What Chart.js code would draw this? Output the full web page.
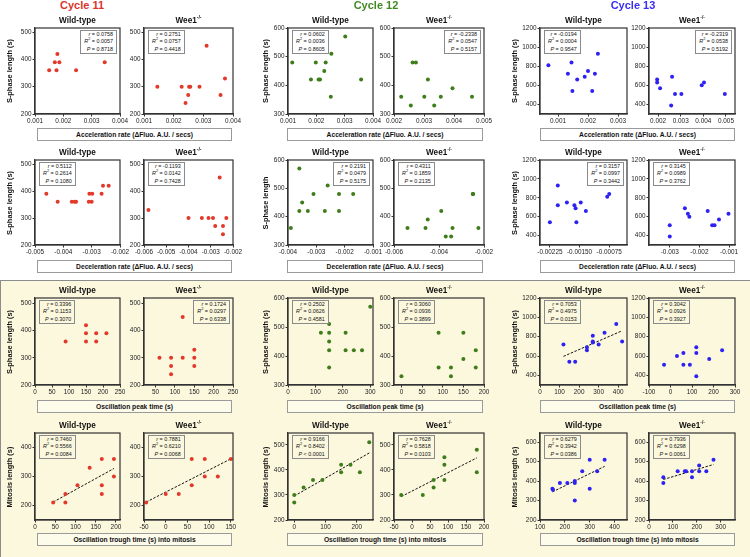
<!DOCTYPE html>
<html>
<head>
<meta charset="utf-8">
<script src="https://cdn.jsdelivr.net/npm/chart.js@4.4.1/dist/chart.umd.min.js"></script>
<style>
  body { margin: 0; background: #fff; font-family: "Liberation Sans", Arial, sans-serif; color: #111; }
  #fig { position: relative; width: 750px; height: 557px; overflow: hidden; }
  .abs { position: absolute; white-space: nowrap; }
  .cyc { font-weight: bold; font-size: 11px; transform: translateX(-50%); }
  .sub { font-weight: bold; font-size: 8.2px; transform: translate(-50%, -50%); }
  .sub sup { font-size: 5px; line-height: 0; }
  .ytl { font-weight: bold; font-size: 7.4px; transform: translate(-50%, -50%) rotate(-90deg); }
  .xbox { border: 1px solid #9a9a9a; font-weight: bold; font-size: 6.7px; text-align: center; box-sizing: border-box; }
  .stat { border: 1px solid #8a8a8a; font-size: 5.4px; line-height: 7.3px; padding: 0 3px; text-align: right; }
  .stat sup { font-size: 3.9px; line-height: 0; }
  #yellow { left: 0; top: 280px; width: 749px; height: 276px; background: #fcf8de; border: 1px solid #8c8c8c; }
  canvas { position: absolute; }
</style>
</head>
<body>
<div id="fig">
  <div id="yellow" class="abs"></div>
</div>
<script>
// ---- data: [x, y] points ----
// Cycle 11
const c11AccWt = [[0.0015,360],[0.0017,390],[0.00176,360],[0.00179,420],[0.00186,390],[0.00245,360],[0.00346,390]];
const c11AccWee = [[0.00145,300],[0.00227,300],[0.0024,240],[0.00249,270],[0.00252,300],[0.00256,300],[0.00287,300],[0.00311,450],[0.00358,270],[0.00373,330]];
const c11DecWt = [[-0.0046,390],[-0.0042,360],[-0.0037,360],[-0.0036,360],[-0.00355,360],[-0.00308,390],[-0.0031,360],[-0.00298,390],[-0.003,360],[-0.00265,390],[-0.0026,420],[-0.0024,420]];
const c11DecWee = [[-0.0058,330],[-0.004,300],[-0.0034,300],[-0.0031,300],[-0.0029,300],[-0.0028,270],[-0.0026,450],[-0.00245,270],[-0.00245,240],[-0.0023,300]];
const c11PeakWt = [[90,360],[150,420],[150,390],[150,360],[180,390],[180,360],[210,390]];
const c11PeakWee = [[60,300],[90,300],[90,270],[90,240],[120,450],[120,300],[150,330],[150,300],[150,270]];
const c11TroughWt = [[45,210],[75,240],[75,210],[105,270],[135,330],[165,360],[165,270],[165,240],[195,360],[195,300]];
const c11TroughWee = [[-45,210],[0,240],[30,240],[60,360],[60,270],[90,360],[90,300],[120,300],[150,360]];
// Cycle 12
const c12AccWt = [[0.00115,480],[0.00181,420],[0.00198,480],[0.00208,420],[0.00213,420],[0.00228,450],[0.00233,480],[0.00253,510],[0.00251,360],[0.00302,570],[0.00358,420]];
const c12AccWee = [[0.00224,360],[0.00256,330],[0.00262,480],[0.00273,480],[0.00301,360],[0.00313,420],[0.00334,330],[0.00356,360],[0.00395,390],[0.0046,360]];
const c12DecWt = [[-0.0039,360],[-0.0036,570],[-0.0036,420],[-0.0035,450],[-0.0033,420],[-0.0031,480],[-0.0027,420],[-0.0026,510],[-0.0022,480],[-0.0022,420],[-0.0017,480]];
const c12DecWee = [[-0.0054,360],[-0.0046,360],[-0.0045,390],[-0.0039,420],[-0.0037,330],[-0.00346,330],[-0.0034,360],[-0.0025,480],[-0.00248,480],[-0.00225,360]];
const c12PeakWt = [[120,480],[150,510],[150,480],[150,450],[150,420],[150,360],[210,480],[210,420],[240,420],[270,420],[300,570]];
const c12PeakWee = [[0,330],[90,480],[90,360],[120,360],[120,330],[150,480],[150,390],[180,420],[180,360]];
const c12TroughWt = [[0,300],[0,270],[30,330],[60,360],[90,360],[150,420],[150,390],[180,420],[210,390],[240,510]];
const c12TroughWee = [[-30,300],[30,300],[60,360],[60,330],[90,450],[90,420],[90,360],[180,480],[180,390]];
// Cycle 13
const c13AccWt = [[0.00068,810],[0.00133,720],[0.00145,840],[0.00148,540],[0.00164,660],[0.00189,690],[0.002,750],[0.00214,540],[0.00223,720],[0.00233,930]];
const c13AccWee = [[0.00196,660],[0.00196,630],[0.00209,570],[0.00262,690],[0.00258,390],[0.00275,510],[0.00303,510],[0.00393,600],[0.00403,630],[0.00495,510]];
const c13DecWt = [[-0.00225,540],[-0.00205,930],[-0.00205,720],[-0.00182,750],[-0.00163,720],[-0.0016,690],[-0.00158,540],[-0.00147,750],[-0.00134,660],[-0.0008,810],[-0.00075,840]];
const c13DecWee = [[-0.003,510],[-0.003,390],[-0.00249,690],[-0.00239,630],[-0.00234,600],[-0.00172,660],[-0.00157,510],[-0.00149,510],[-0.00134,570],[-0.00102,630]];
const c13PeakWt = [[120,720],[150,540],[180,540],[240,690],[240,660],[270,810],[270,750],[270,740],[300,720],[330,840],[390,930],[420,750]];
const c13PeakWee = [[-30,510],[30,600],[60,630],[60,510],[90,510],[120,690],[120,630],[120,390],[180,570],[240,660]];
const c13TroughWt = [[150,360],[152,355],[180,390],[210,390],[240,390],[240,400],[240,300],[270,450],[300,510],[300,360],[330,450],[360,510]];
const c13TroughWee = [[60,420],[60,390],[120,450],[150,450],[155,450],[180,450],[180,420],[210,480],[210,450],[240,450],[270,510]];

// ---- stats text: r, R squared, P ----
const stats = [
  ['0.0758','0.0057','= 0.8718'], ['0.2751','0.0757','= 0.4418'], ['0.0602','0.0036','= 0.8605'],
  ['-0.2338','0.0547','= 0.5157'], ['-0.0194','0.0004','= 0.9547'], ['-0.2319','0.0538','= 0.5192'],
  ['0.5112','0.2614','= 0.1080'], ['-0.1193','0.0142','= 0.7428'], ['0.2191','0.0479','= 0.5175'],
  ['0.4311','0.1859','= 0.2135'], ['0.3157','0.0997','= 0.3442'], ['0.3145','0.0989','= 0.3762'],
  ['0.3396','0.1153','= 0.3070'], ['0.1724','0.0297','= 0.6338'], ['0.2502','0.0626','= 0.4581'],
  ['0.3060','0.0936','= 0.3899'], ['0.7053','0.4975','= 0.0153'], ['0.3042','0.0926','= 0.3927'],
  ['0.7460','0.5566','= 0.0084'], ['0.7881','0.6210','= 0.0068'], ['0.9166','0.8402','< 0.0001'],
  ['0.7628','0.5818','= 0.0103'], ['0.6279','0.3942','= 0.0386'], ['0.7936','0.6298','= 0.0061']
];

// ---- tick values ----
const tkAcc = [0.001,0.002,0.003,0.004];
const tkAcc12Wee = [0.002,0.003,0.004,0.005];
const tkAcc13Wt = [0.001,0.002,0.003];
const tkDec11Wt = [-0.005,-0.004,-0.003,-0.002];
const tkDec11Wee = [-0.006,-0.005,-0.004,-0.003,-0.002];
const tkDec12Wt = [-0.004,-0.003,-0.002,-0.001];
const tkDec12Wee = [-0.006,-0.004,-0.002];
const tkDec13Wt = [-0.00225,-0.0015,-0.00075];
const tkDec13Wee = [-0.003,-0.002,-0.001];
const tkPeak11Wt = [0,50,100,150,200,250];
const tkPeak11Wee = [50,100,150,200,250];
const tkPeak12Wt = [0,100,200,300];
const tkPeak12Wee = [0,50,100,150,200];
const tkPeak13Wt = [0,100,200,300,400];
const tkPeak13Wee = [-100,0,100,200,300];
const tkTr11Wt = [0,50,100,150,200];
const tkTr11Wee = [-50,0,50,100,150];
const tkTr12Wt = [0,100,200];
const tkTr12Wee = [-50,0,50,100,150,200];
const tkTr13Wt = [100,200,300,400];
const tkTr13Wee = [0,100,200,300];
const tkS11 = [200,300,400,500];
const tkS12 = [300,400,500,600];
const tkS13 = [400,600,800,1000,1200];
const tkM11 = [200,300,400];
const tkM12 = [200,300,400,500];
const tkM13 = [200,300,400,500,600];

const cycles = ['Cycle 11', 'Cycle 12', 'Cycle 13'];
const cycleColors = ['#d9352b', '#3f8a22', '#3a2ef2'];
const dotColors = ['#e2392b', '#3f7d1b', '#2d22f2'];
const xTitles = ['Acceleration rate (\u0394Fluo. A.U. / secs)', 'Deceleration rate (\u0394Fluo. A.U. / secs)',
  'Oscillation peak time (s)', 'Oscillation trough time (s) into mitosis'];
const yTitles = [
  ['S-phase length (s)', 'S-phase length (s)', 'S-phase length (s)'],
  ['S-phase length (s)', 'S-phase length', 'S-phase length (s)'],
  ['S-phase length (s)', 'S-phase length (s)', 'S-phase length (s)'],
  ['Mitosis length (s)', 'Mitosis length (s)', 'Mitosis length (s)']
];

// ---- layout ----
const Y_W = 24, X_H = 11, PT = 5, PR = 12;
const colWt = [[35,120],[288,373],[540,627]];
const colWee = [[144,233],[394,484],[649,735]];
const rows = [[28,114],[160,245],[298,385],[433,520]];
const xBoxX = [[37,232],[287,483],[540,735]];
const xBoxY = [128,260,400,533];
const subY = [20,152,290,425];
const yTitleX = [9,265,514];
const cycleX = [82,376,633];

const panels = [
  {r:0,c:0,g:0,pts:c11AccWt,xr:[0.001,0.004],xt:tkAcc,yr:[200,515],yt:tkS11,d:3,side:'R'},
  {r:0,c:0,g:1,pts:c11AccWee,xr:[0.001,0.004],xt:tkAcc,yr:[200,515],yt:tkS11,d:3,side:'L'},
  {r:0,c:1,g:0,pts:c12AccWt,xr:[0.001,0.004],xt:tkAcc,yr:[300,600],yt:tkS12,d:3,side:'L'},
  {r:0,c:1,g:1,pts:c12AccWee,xr:[0.002,0.005],xt:tkAcc12Wee,yr:[300,600],yt:tkS12,d:3,side:'R'},
  {r:0,c:2,g:0,pts:c13AccWt,xr:[0.0004,0.0033],xt:tkAcc13Wt,yr:[300,1200],yt:tkS13,d:3,side:'L'},
  {r:0,c:2,g:1,pts:c13AccWee,xr:[0.0016,0.0054],xt:tkAcc12Wee,yr:[300,1200],yt:tkS13,d:3,side:'R'},
  {r:1,c:0,g:0,pts:c11DecWt,xr:[-0.005,-0.002],xt:tkDec11Wt,yr:[200,515],yt:tkS11,d:3,side:'L'},
  {r:1,c:0,g:1,pts:c11DecWee,xr:[-0.006,-0.002],xt:tkDec11Wee,yr:[200,515],yt:tkS11,d:3,side:'L'},
  {r:1,c:1,g:0,pts:c12DecWt,xr:[-0.004,-0.001],xt:tkDec12Wt,yr:[300,600],yt:tkS12,d:3,side:'R'},
  {r:1,c:1,g:1,pts:c12DecWee,xr:[-0.006,-0.002],xt:tkDec12Wee,yr:[300,600],yt:tkS12,d:3,side:'L'},
  {r:1,c:2,g:0,pts:c13DecWt,xr:[-0.0025,-0.0003],xt:tkDec13Wt,yr:[300,1200],yt:tkS13,d:5,side:'R'},
  {r:1,c:2,g:1,pts:c13DecWee,xr:[-0.0037,-0.0008],xt:tkDec13Wee,yr:[300,1200],yt:tkS13,d:3,side:'L'},
  {r:2,c:0,g:0,pts:c11PeakWt,xr:[0,250],xt:tkPeak11Wt,yr:[200,520],yt:tkS11,d:0,side:'L'},
  {r:2,c:0,g:1,pts:c11PeakWee,xr:[20,250],xt:tkPeak11Wee,yr:[200,520],yt:tkS11,d:0,side:'R'},
  {r:2,c:1,g:0,pts:c12PeakWt,xr:[0,310],xt:tkPeak12Wt,yr:[300,600],yt:tkS12,d:0,side:'L'},
  {r:2,c:1,g:1,pts:c12PeakWee,xr:[-18,200],xt:tkPeak12Wee,yr:[300,600],yt:tkS12,d:0,side:'L'},
  {r:2,c:2,g:0,pts:c13PeakWt,xr:[0,445],xt:tkPeak13Wt,yr:[300,1200],yt:tkS13,d:0,side:'L',fit:true},
  {r:2,c:2,g:1,pts:c13PeakWee,xr:[-100,300],xt:tkPeak13Wee,yr:[300,1200],yt:tkS13,d:0,side:'L'},
  {r:3,c:0,g:0,pts:c11TroughWt,xr:[0,210],xt:tkTr11Wt,yr:[150,450],yt:tkM11,d:0,side:'L',fit:true},
  {r:3,c:0,g:1,pts:c11TroughWee,xr:[-50,155],xt:tkTr11Wee,yr:[150,450],yt:tkM11,d:0,side:'L',fit:true},
  {r:3,c:1,g:0,pts:c12TroughWt,xr:[-20,252],xt:tkTr12Wt,yr:[200,547],yt:tkM12,d:0,side:'L',fit:true},
  {r:3,c:1,g:1,pts:c12TroughWee,xr:[-50,200],xt:tkTr12Wee,yr:[200,547],yt:tkM12,d:0,side:'L',fit:true},
  {r:3,c:2,g:0,pts:c13TroughWt,xr:[100,450],xt:tkTr13Wt,yr:[200,647],yt:tkM13,d:0,side:'L',fit:true},
  {r:3,c:2,g:1,pts:c13TroughWee,xr:[0,360],xt:tkTr13Wee,yr:[200,647],yt:tkM13,d:0,side:'L',fit:true}
];

const fig = document.getElementById('fig');

function addDiv(cls, html, css) {
  const d = document.createElement('div');
  d.className = 'abs ' + cls;
  d.innerHTML = html;
  Object.assign(d.style, css);
  fig.appendChild(d);
  return d;
}

// least squares line over the data's x extent
function fitLine(pts) {
  const n = pts.length;
  const mx = pts.reduce((s, p) => s + p[0], 0) / n;
  const my = pts.reduce((s, p) => s + p[1], 0) / n;
  let sxy = 0, sxx = 0;
  pts.forEach(p => { sxy += (p[0] - mx) * (p[1] - my); sxx += (p[0] - mx) ** 2; });
  const b = sxy / sxx, a = my - b * mx;
  const xs = pts.map(p => p[0]);
  const x0 = Math.min(...xs), x1 = Math.max(...xs);
  return [{x: x0, y: a + b * x0}, {x: x1, y: a + b * x1}];
}

function fmt(v, d) {
  if (v === 0) return '0';
  return d ? v.toFixed(d) : String(v);
}

const framePlugin = {
  id: 'frame',
  afterDraw(chart) {
    const {ctx, chartArea: a} = chart;
    ctx.save();
    ctx.strokeStyle = '#333';
    ctx.lineWidth = 1.2;
    ctx.strokeRect(a.left, a.top, a.right - a.left, a.bottom - a.top);
    ctx.restore();
  }
};

function axisOpts(range, ticks, d, isX) {
  return {
    type: 'linear',
    min: range[0],
    max: range[1],
    afterBuildTicks: ax => { ax.ticks = ticks.map(v => ({value: v})); },
    afterFit: s => { if (isX) s.height = X_H; else s.width = Y_W; },
    ticks: {
      font: {size: 6.4, family: 'Liberation Sans'},
      color: '#222',
      padding: 1,
      maxRotation: 0,
      autoSkip: false,
      callback: v => fmt(v, isX ? d : 0)
    },
    grid: {drawOnChartArea: false, tickLength: 2.5, color: '#333', lineWidth: 1},
    border: {color: '#333', width: 1.2}
  };
}

panels.forEach((p, i) => {
  const [xl, xr] = (p.g === 0 ? colWt : colWee)[p.c];
  const [yt, yb] = rows[p.r];
  const cv = document.createElement('canvas');
  const w = (xr - xl) + Y_W + PR, h = (yb - yt) + PT + X_H;
  cv.width = w; cv.height = h;
  cv.style.left = (xl - Y_W) + 'px';
  cv.style.top = (yt - PT) + 'px';
  cv.style.width = w + 'px';
  cv.style.height = h + 'px';
  fig.appendChild(cv);

  const datasets = [{
    data: p.pts.map(([x, y]) => ({x, y})),
    backgroundColor: dotColors[p.c],
    borderWidth: 0,
    pointRadius: 2
  }];
  if (p.fit) {
    datasets.push({
      type: 'line',
      data: fitLine(p.pts),
      borderColor: '#111',
      borderWidth: 1,
      borderDash: [2.5, 1.5],
      pointRadius: 0,
      fill: false
    });
  }

  new Chart(cv, {
    type: 'scatter',
    data: {datasets},
    options: {
      responsive: false,
      animation: false,
      events: [],
      layout: {padding: {top: PT, right: PR, left: 0, bottom: 0}},
      plugins: {legend: {display: false}, tooltip: {enabled: false}},
      scales: {
        x: axisOpts(p.xr, p.xt, p.d, true),
        y: axisOpts(p.yr, p.yt, 0, false)
      }
    },
    plugins: [framePlugin]
  });

  // stats box
  const s = stats[i];
  const bg = p.r < 2 ? '#fff' : '#fcf8de';
  const css = {top: (yt + 2) + 'px', background: bg};
  if (p.side === 'L') css.left = (xl + 4) + 'px';
  else css.right = (750 - xr + 3) + 'px';
  addDiv('stat', '<i>r</i> = ' + s[0] + '<br><i>R</i><sup>2</sup> = ' + s[1] + '<br><i>P</i> ' + s[2], css);
});

// titles and labels
cycles.forEach((t, c) => {
  addDiv('cyc', t, {left: cycleX[c] + 'px', top: '-1px', color: cycleColors[c]});
  rows.forEach(([yt, yb], r) => {
    const wt = colWt[c], wee = colWee[c];
    addDiv('sub', 'Wild-type', {left: ((wt[0] + wt[1]) / 2) + 'px', top: subY[r] + 'px'});
    addDiv('sub', 'Wee1<sup>-/-</sup>', {left: ((wee[0] + wee[1]) / 2) + 'px', top: subY[r] + 'px'});
    addDiv('ytl', yTitles[r][c], {left: yTitleX[c] + 'px', top: ((yt + yb) / 2) + 'px'});
    const bx = xBoxX[c];
    addDiv('xbox', xTitles[r], {
      left: bx[0] + 'px', top: xBoxY[r] + 'px', width: (bx[1] - bx[0]) + 'px', height: '13px', lineHeight: '11px',
      background: r < 2 ? '#fff' : '#fdfbea'
    });
  });
});
</script>
</body>
</html>
